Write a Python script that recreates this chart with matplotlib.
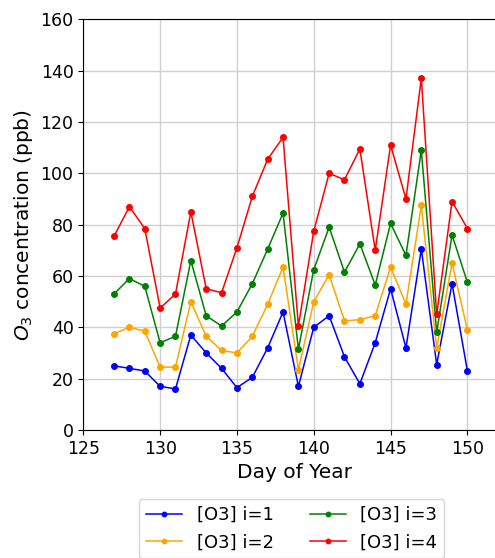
import numpy as np
import matplotlib
matplotlib.use("Agg")
import matplotlib.pyplot as plt

# day of year
days = np.arange(127, 151)

# O3 concentrations (ppb) for each i
o3_i1 = [25, 24, 23, 17, 16, 37, 30, 24, 16.5, 20.5, 32, 46,
         17, 40, 44.5, 28.5, 18, 34, 55, 32, 70.5, 25.5, 57, 23]
o3_i2 = [37.5, 40, 38.5, 24.5, 24.5, 50, 36.5, 31, 30, 36.5, 49, 63.5,
         23.5, 50, 60.5, 42.5, 43, 44.5, 63.5, 49, 87.5, 32, 65, 39]
o3_i3 = [53, 59, 56, 34, 36.5, 66, 44.5, 40.5, 46, 57, 70.5, 84.5,
         31.5, 62.5, 79, 61.5, 72.5, 56.5, 80.5, 68, 109, 38, 76, 57.5]
o3_i4 = [75.5, 87, 78.5, 47.5, 53, 85, 55, 53.5, 71, 91, 105.5, 114,
         40.5, 77.5, 100, 97.5, 109.5, 70, 111, 90, 137, 45, 89, 78.5]

series = [o3_i1, o3_i2, o3_i3, o3_i4]
labels = ["[O3] i=1", "[O3] i=2", "[O3] i=3", "[O3] i=4"]
colors = ["blue", "orange", "green", "red"]

fig = plt.figure(figsize=(4.95, 5.58), dpi=100)
# axes run past the right edge, like the cropped original
ax = fig.add_axes([0.1683, 0.2294, 0.852, 0.736])

for vals, lab, col in zip(series, labels, colors):
    ax.plot(days, vals, marker="o", markersize=4, linewidth=1.1, color=col, label=lab)

ax.set_xlim(125, 152.45)
ax.set_ylim(0, 160)
ax.set_xticks([125, 130, 135, 140, 145, 150])
ax.set_yticks(np.arange(0, 161, 20))
ax.grid(True, color="#d0d0d0", linewidth=1)
ax.tick_params(labelsize=12.5)
ax.set_xlabel("Day of Year", fontsize=14.5)
ax.set_ylabel("$O_3$ concentration (ppb)", fontsize=14.5)

# legend centred on the visible part of the plot
ax.legend(loc="upper center", bbox_to_anchor=(0.494, -0.168), ncol=2,
          fontsize=13, borderaxespad=0, markerscale=0.8)

fig.savefig("out.png", dpi=100)
